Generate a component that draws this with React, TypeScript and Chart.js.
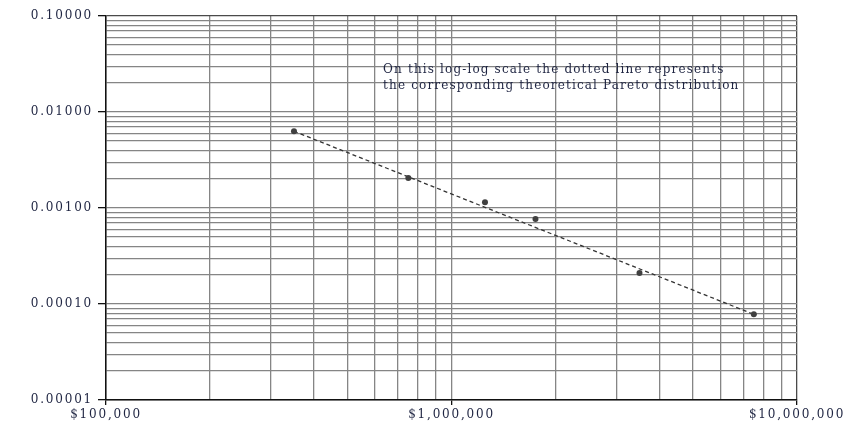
import React, { useEffect, useRef } from 'react';
import { Chart, registerables } from 'chart.js';

Chart.register(...registerables);

// ---- data ----
const incomes = [350000, 750000, 1250000, 1750000, 3500000, 7500000];
const frequencies = [0.0063, 0.00205, 0.00115, 0.00077, 0.00021, 0.000078];
const paretoIncomes = [350000, 7500000];
const paretoFrequencies = [0.0063, 0.000078];
const xDecades = [100000, 1000000, 10000000];
const yDecades = [0.00001, 0.0001, 0.001, 0.01, 0.1];
const noteLines = [
  'On this log-log scale the dotted line represents',
  'the corresponding theoretical Pareto distribution',
];
const noteAnchor = { x: 634000, y: 0.0274 };

const LABEL_FONT = 'DejaVu Serif';
const LABEL_COLOR = '#1f2542';

function isDecade(v: number) {
  const l = Math.log10(v);
  return Math.abs(l - Math.round(l)) < 1e-9;
}

function buildLogTicks(decades: number[]) {
  const out: { value: number; major: boolean }[] = [];
  decades.forEach((d, i) => {
    if (i === decades.length - 1) {
      out.push({ value: d, major: true });
      return;
    }
    for (let m = 1; m <= 9; m++) {
      out.push({ value: +(d * m).toPrecision(6), major: m === 1 });
    }
  });
  return out;
}

const letterSpacingPlugin = {
  id: 'letterSpacing',
  beforeLayout(chart: any) {
    (chart.ctx as any).letterSpacing = '1.8px';
  },
  beforeDraw(chart: any) {
    (chart.ctx as any).letterSpacing = '1.8px';
  },
};

const notePlugin = {
  id: 'note',
  afterDraw(chart: any) {
    const ctx = chart.ctx;
    const xs = chart.scales.x;
    const ys = chart.scales.y;
    const px = xs.getPixelForValue(noteAnchor.x);
    const py = ys.getPixelForValue(noteAnchor.y);
    ctx.save();
    (ctx as any).letterSpacing = '1.15px';
    ctx.font = `12px "${LABEL_FONT}"`;
    ctx.fillStyle = LABEL_COLOR;
    ctx.textAlign = 'left';
    ctx.textBaseline = 'middle';
    noteLines.forEach((line, i) => {
      ctx.fillText(line, px, py + i * 16);
    });
    ctx.restore();
  },
};

export default function App() {
  const ref = useRef<HTMLCanvasElement | null>(null);

  useEffect(() => {
    if (!ref.current) return;
    const chart = new Chart(ref.current, {
      type: 'scatter',
      data: {
        datasets: [
          {
            label: 'Observed',
            data: incomes.map((x, i) => ({ x, y: frequencies[i] })),
            pointRadius: 3,
            pointBackgroundColor: '#404040',
            pointBorderWidth: 0,
            showLine: false,
            order: 1,
          },
          {
            label: 'Pareto',
            data: paretoIncomes.map((x, i) => ({ x, y: paretoFrequencies[i] })),
            showLine: true,
            borderColor: '#333333',
            borderWidth: 1.3,
            borderDash: [4, 3],
            pointRadius: 0,
            order: 2,
          },
        ],
      },
      options: {
        animation: false,
        responsive: true,
        maintainAspectRatio: false,
        layout: { padding: { top: 16, right: 52, left: 0, bottom: 0 } },
        plugins: {
          legend: { display: false },
          tooltip: { enabled: false },
        },
        scales: {
          x: {
            type: 'logarithmic',
            min: xDecades[0],
            max: xDecades[xDecades.length - 1],
            afterBuildTicks: (scale: any) => {
              scale.ticks = buildLogTicks(xDecades);
            },
            afterFit: (scale: any) => {
              scale.height = 29;
            },
            ticks: {
              autoSkip: false,
              maxRotation: 0,
              padding: 3,
              font: { family: LABEL_FONT, size: 12 },
              color: LABEL_COLOR,
              callback: (v: any) =>
                isDecade(Number(v)) ? '$' + Number(v).toLocaleString('en-US') : '',
            },
            grid: {
              color: (c: any) =>
                c.tick && c.tick.value === xDecades[xDecades.length - 1] ? '#4a4a4a' : '#858585',
              lineWidth: 1.3,
              tickLength: 5,
              tickColor: (c: any) =>
                c.tick && isDecade(c.tick.value) ? '#111111' : 'rgba(0,0,0,0)',
              tickWidth: 1.3,
            },
            border: { color: '#111111', width: 1.5 },
          },
          y: {
            type: 'logarithmic',
            min: yDecades[0],
            max: yDecades[yDecades.length - 1],
            afterBuildTicks: (scale: any) => {
              scale.ticks = buildLogTicks(yDecades);
            },
            afterFit: (scale: any) => {
              scale.width = 106;
            },
            ticks: {
              autoSkip: false,
              padding: 5,
              font: { family: LABEL_FONT, size: 12 },
              color: LABEL_COLOR,
              callback: (v: any) => (isDecade(Number(v)) ? Number(v).toFixed(5) : ''),
            },
            grid: {
              color: (c: any) =>
                c.tick && c.tick.value === yDecades[yDecades.length - 1] ? '#4a4a4a' : '#858585',
              lineWidth: 1.3,
              tickLength: 8,
              tickColor: (c: any) =>
                c.tick && isDecade(c.tick.value) ? '#111111' : 'rgba(0,0,0,0)',
              tickWidth: 1.3,
            },
            border: { color: '#111111', width: 1.5 },
          },
        },
      },
      plugins: [letterSpacingPlugin, notePlugin],
    });
    return () => chart.destroy();
  }, []);

  return (
    <div
      style={{
        position: 'fixed',
        left: 0,
        top: 0,
        width: 849,
        height: 429,
        background: '#ffffff',
      }}
    >
      <canvas ref={ref} />
    </div>
  );
}
